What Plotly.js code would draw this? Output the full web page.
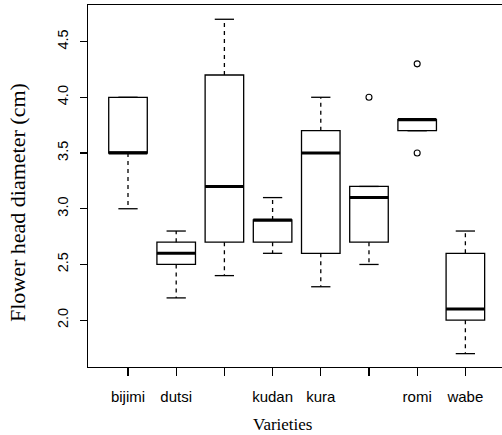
<!DOCTYPE html>
<html><head><meta charset="utf-8">
<script src="https://cdn.plot.ly/plotly-3.0.1.min.js"></script>
<style>html,body{margin:0;padding:0;background:#fff}</style>
</head><body><div id="chart" style="width:502px;height:435px"></div>
<script>
// Data
const tickLabels = ["bijimi", "dutsi", "", "kudan", "kura", "", "romi", "wabe"];
const positions = [1, 2, 3, 4, 5, 6, 7, 8];
const lowerWhisker = [3.0, 2.2, 2.4, 2.6, 2.3, 2.5, 3.7, 1.7];
const q1Values = [3.5, 2.5, 2.7, 2.7, 2.6, 2.7, 3.7, 2.0];
const medianValues = [3.5, 2.6, 3.2, 2.9, 3.5, 3.1, 3.8, 2.1];
const q3Values = [4.0, 2.7, 4.2, 2.9, 3.7, 3.2, 3.8, 2.6];
const upperWhisker = [4.0, 2.8, 4.7, 3.1, 4.0, 3.2, 3.8, 2.8];
const outlierPos = [6, 7, 7];
const outlierValues = [4.0, 4.3, 3.5];
const yTickVals = [2.0, 2.5, 3.0, 3.5, 4.0, 4.5];

const boxWidth = 0.8, stapleHalf = 0.2, medHalf = 0.4;

// build segment paths from the arrays
const wx = [], wy = [], sx = [], sy = [], mx = [], my = [];
positions.forEach((p, i) => {
  if (q3Values[i] < upperWhisker[i]) { wx.push(p, p, null); wy.push(q3Values[i], upperWhisker[i], null); }
  if (lowerWhisker[i] < q1Values[i]) { wx.push(p, p, null); wy.push(q1Values[i], lowerWhisker[i], null); }
  sx.push(p - stapleHalf, p + stapleHalf, null); sy.push(upperWhisker[i], upperWhisker[i], null);
  sx.push(p - stapleHalf, p + stapleHalf, null); sy.push(lowerWhisker[i], lowerWhisker[i], null);
  mx.push(p - medHalf, p + medHalf, null); my.push(medianValues[i], medianValues[i], null);
});

const traces = [
  { type: 'box', x: positions, q1: q1Values, median: medianValues, q3: q3Values,
    lowerfence: q1Values, upperfence: q3Values, width: boxWidth, whiskerwidth: 0,
    fillcolor: 'rgba(0,0,0,0)', line: { color: '#000', width: 1.3 }, boxpoints: false,
    hoverinfo: 'skip', showlegend: false },
  { type: 'scatter', mode: 'lines', x: wx, y: wy, line: { color: '#000', width: 1.3, dash: '4px,4px' },
    hoverinfo: 'skip', showlegend: false },
  { type: 'scatter', mode: 'lines', x: sx, y: sy, line: { color: '#000', width: 1.3 },
    hoverinfo: 'skip', showlegend: false },
  { type: 'scatter', mode: 'lines', x: mx, y: my, line: { color: '#000', width: 3 },
    hoverinfo: 'skip', showlegend: false },
  { type: 'scatter', mode: 'markers', x: outlierPos, y: outlierValues,
    marker: { symbol: 'circle-open', size: 6, color: '#000', line: { width: 1.1, color: '#000' } },
    hoverinfo: 'skip', showlegend: false }
];

const layout = {
  width: 502, height: 435,
  margin: { l: 88, r: 0, t: 5, b: 68 },
  paper_bgcolor: '#fff', plot_bgcolor: '#fff',
  showlegend: false,
  xaxis: {
    range: [0.17, 8.76], tickvals: positions, ticktext: tickLabels,
    ticks: 'outside', ticklen: 8, tickwidth: 1.2, tickcolor: '#000',
    showline: true, mirror: true, linecolor: '#000', linewidth: 1.3,
    showgrid: false, zeroline: false, ticklabelstandoff: 8,
    tickfont: { family: 'Liberation Sans, Arial, sans-serif', size: 15, color: '#000' }
  },
  yaxis: {
    range: [1.58, 4.828], tickvals: yTickVals, ticktext: yTickVals.map(v => v.toFixed(1)),
    tickangle: -90,
    ticks: 'outside', ticklen: 7, tickwidth: 1.2, tickcolor: '#000',
    showline: true, mirror: false, linecolor: '#000', linewidth: 1.3,
    showgrid: false, zeroline: false, ticklabelstandoff: 6,
    tickfont: { family: 'Liberation Sans, Arial, sans-serif', size: 14.5, color: '#000' }
  },
  annotations: [
    { text: 'Varieties', xref: 'paper', yref: 'paper', x: (282 - 88) / 414, y: (367 - 424) / 362,
      xanchor: 'center', yanchor: 'middle', showarrow: false,
      font: { family: 'Liberation Serif, Times New Roman, serif', size: 17, color: '#000' } },
    { text: 'Flower head diameter (cm)', xref: 'paper', yref: 'paper', x: (17 - 88) / 414, y: (367 - 203) / 362,
      xanchor: 'center', yanchor: 'middle', textangle: -90, showarrow: false,
      font: { family: 'Liberation Serif, Times New Roman, serif', size: 22, color: '#000' } }
  ]
};

Plotly.newPlot('chart', traces, layout, { displayModeBar: false, staticPlot: true });
</script>
</body></html>
